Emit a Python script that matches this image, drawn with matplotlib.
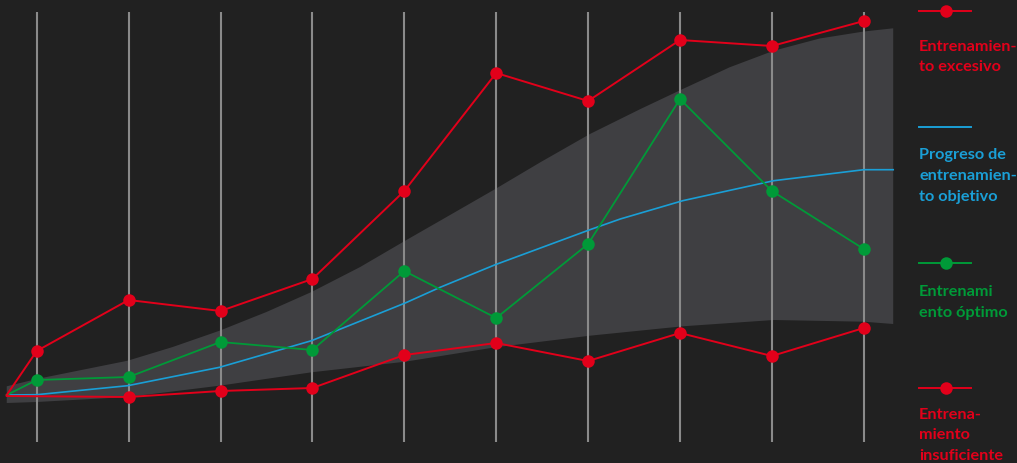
import matplotlib.pyplot as plt
from matplotlib.lines import Line2D

# values (y = height above the baseline, x = week index)
x_start = -0.326
weeks = list(range(10))

excesivo = [91, 142, 131, 163, 251, 369, 341, 402, 396, 421]
optimo = [62, 65, 100, 92, 171, 124, 198, 343, 251, 193]
insuficiente_x = list(range(1, 10))
insuficiente = [45, 51, 54, 87, 99, 81, 109, 86, 114]
start_val = 47
start_val_low = 46

objetivo_x = [-0.326, 0, 0.99, 1.99, 2.99, 4.01, 4.39, 4.99, 6.02, 6.35, 7.03, 8.02, 9.0, 9.32]
objetivo = [47, 47.3, 56.3, 74.7, 101.3, 139, 154.7, 177.3, 212.3, 223, 241.3, 261.3, 272.3, 272.3]

band_hi_x = [-0.326, 0, 0.99, 1.48, 1.99, 2.5, 2.99, 3.52, 4.01, 4.39, 4.99, 5.48,
             6.02, 6.57, 7.03, 7.54, 8.02, 8.52, 9.0, 9.32]
band_hi = [55.7, 63, 81.3, 95, 111.3, 130, 150, 175, 201.3, 221.3, 253, 279.7,
           308, 333, 353, 374.7, 391.3, 403.5, 410.5, 413.7]
band_lo_x = [-0.326, 0, 0.99, 1.99, 2.99, 4.01, 4.99, 6.02, 7.03, 8.02, 9.0, 9.32]
band_lo = [39, 40, 45, 56.3, 69.7, 80.3, 94.7, 106.3, 115.7, 122, 120.3, 118]

legend_labels = [
    ["Entrenamien-", "to excesivo"],
    ["Progreso de", "entrenamien-", "to objetivo"],
    ["Entrenami", "ento óptimo"],
    ["Entrena-", "miento", "insuficiente"],
]

BG = "#212121"
RED = "#e2001a"
GREEN = "#009a38"
BLUE = "#1a9fd6"
BAND = "#3f3f42"
GRID = "#8a8a8a"

W, H = 1017, 464
fig = plt.figure(figsize=(W / 100, H / 100), dpi=100, facecolor=BG)
ax = fig.add_axes([0, 0, 1, 1], facecolor=BG)
ax.set_xlim(-36.7 / 91.9, (W - 36.7) / 91.9)
ax.set_ylim(-21, 443)
ax.axis("off")

ax.fill(band_hi_x + band_lo_x[::-1], band_hi + band_lo[::-1], color=BAND, lw=0, zorder=1)
ax.vlines(weeks, 0, 430, color=GRID, lw=1.5, zorder=2)

mk = dict(marker="o", markersize=9, markeredgewidth=0, markevery=slice(1, None))
ax.plot(objetivo_x, objetivo, color=BLUE, lw=1.2, zorder=3)
ax.plot([x_start] + weeks, [start_val] + optimo, color=GREEN, lw=1.3, zorder=4, **mk)
ax.plot([x_start] + insuficiente_x, [start_val_low] + insuficiente, color=RED, lw=1.4, zorder=5, **mk)
ax.plot([x_start] + weeks, [start_val] + excesivo, color=RED, lw=1.4, zorder=5, **mk)

# legend on the right, placed in pixels
def px(x, y):
    return x / W, 1 - y / H

items = [
    (RED, True, 12.3, [50.7, 70.7]),
    (BLUE, False, 128, [159, 180, 201]),
    (GREEN, True, 264, [296, 316.5]),
    (RED, True, 389, [419, 439.5, 460]),
]
for (color, dot, ly, bases), lines in zip(items, legend_labels):
    x0, y0 = px(919, ly)
    x1, _ = px(971, ly)
    fig.add_artist(Line2D([x0, x1], [y0, y0], color=color, lw=1.4, transform=fig.transFigure))
    if dot:
        xm, _ = px(946, ly)
        fig.add_artist(Line2D([xm], [y0], color=color, marker="o", markersize=9,
                              markeredgewidth=0, transform=fig.transFigure))
    for txt, b in zip(lines, bases):
        tx, ty = px(919, b)
        fig.text(tx, ty, txt, color=color, fontsize=11.7, fontweight="bold",
                 family="Lato", va="baseline", ha="left")

fig.savefig("out.png", dpi=100, facecolor=BG)
